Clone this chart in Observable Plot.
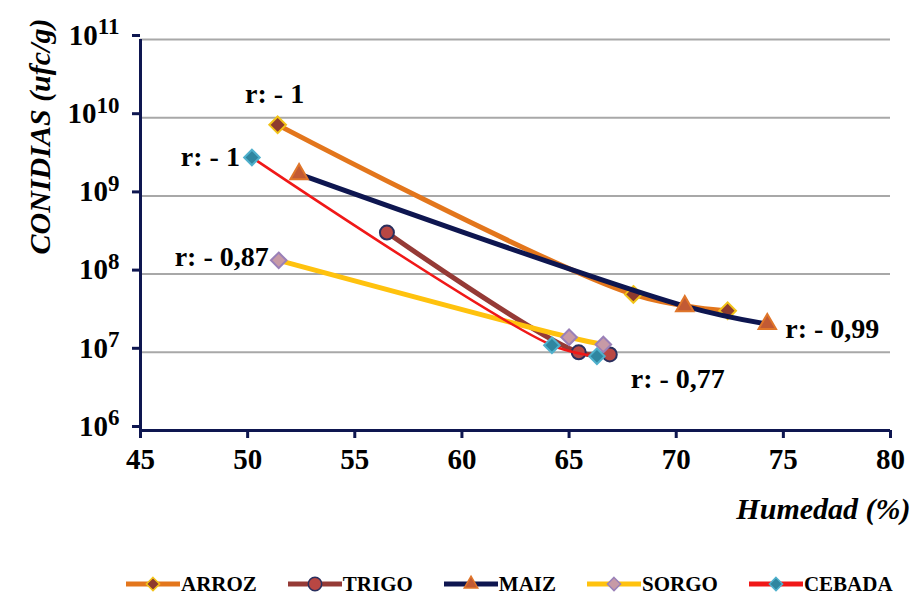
<!DOCTYPE html>
<html><head><meta charset="utf-8">
<script src="https://cdn.jsdelivr.net/npm/d3@7"></script>
<script src="https://cdn.jsdelivr.net/npm/@observablehq/plot@0.6"></script>
<style>
body{margin:0;background:#fff;width:915px;height:600px;overflow:hidden;font-family:"Liberation Serif","Times New Roman",serif}
#legend{display:flex;align-items:center;height:32px;padding-left:125px;font-weight:bold;font-size:21px;color:#000}
.item{display:flex;align-items:center;margin-right:30px}
.item svg{display:block}
</style></head><body><div id="chart"></div><div id="legend"></div>
<script>
// ---- data ----
const series = ["ARROZ", "TRIGO", "MAIZ", "SORGO", "CEBADA"];
const arrozX = [51.4, 68.0, 72.4];
const arrozY = [8.1e9, 5.5e7, 3.4e7];
const trigoX = [56.5, 65.45, 66.9];
const trigoY = [3.4e8, 1.0e7, 9.4e6];
const maizX = [52.4, 70.4, 74.25];
const maizY = [1.9e9, 3.9e7, 2.3e7];
const sorgoX = [51.45, 65.0, 66.6];
const sorgoY = [1.5e8, 1.56e7, 1.26e7];
const cebadaX = [50.2, 64.2, 66.3];
const cebadaY = [3.1e9, 1.23e7, 8.9e6];
const xTicks = [45, 50, 55, 60, 65, 70, 75, 80];
const yTicks = [1e6, 1e7, 1e8, 1e9, 1e10, 1e11];
const rLabels = ["r: - 1", "r: - 0,77", "r: - 0,99", "r: - 0,87", "r: - 1"];
const yLabel = "CONIDIAS (ufc/g)";
const xLabel = "Humedad (%)";

// ---- styles ----
const navy = "#0E1650";
const styles = {
  ARROZ: {line: "#E3761C", w: 5, symbol: "diamond2", fill: "#8E3B2E", stroke: "#F2C318", r: 7.5},
  TRIGO: {line: "#953A36", w: 5, symbol: "circle", fill: "#B94743", stroke: "#2A2F5E", r: 7},
  MAIZ: {line: navy, w: 5, symbol: "triangle", fill: "#C25A34", stroke: "#E0762A", r: 6.5},
  SORGO: {line: "#FFC20E", w: 5, symbol: "diamond2", fill: "#C79AA6", stroke: "#9A80B8", r: 7},
  CEBADA: {line: "#F01818", w: 2.5, symbol: "diamond2", fill: "#2F86A0", stroke: "#4FB0CC", r: 7}
};
const xs = [arrozX, trigoX, maizX, sorgoX, cebadaX];
const ys = [arrozY, trigoY, maizY, sorgoY, cebadaY];
const rows = series.map((s, i) => xs[i].map((x, j) => ({serie: s, x, y: ys[i][j]})));

const seriesMarks = series.flatMap((s, i) => {
  const st = styles[s];
  return [
    Plot.line(rows[i], {x: "x", y: "y", stroke: st.line, strokeWidth: st.w, curve: "catmull-rom"}),
    Plot.dot(rows[i], {x: "x", y: "y", symbol: st.symbol, r: st.r, fill: st.fill, stroke: st.stroke, strokeWidth: 2})
  ];
});

const annFont = {fontSize: 28, fontWeight: "bold", fill: "#000"};
const ann = (row, label, opts) => Plot.text([{...row, t: label}], {x: "x", y: "y", text: "t", ...annFont, ...opts});

const chart = Plot.plot({
  width: 915, height: 568,
  marginLeft: 140, marginRight: 25, marginTop: 39, marginBottom: 138,
  style: {fontFamily: "'Liberation Serif', 'Times New Roman', serif", fontWeight: "bold", fontSize: "29px", color: "#000", background: "#fff"},
  x: {domain: [45, 80]},
  y: {type: "log", domain: [1e6, 1e11]},
  marks: [
    Plot.ruleY(yTicks.slice(1), {stroke: "#A8A8A8", strokeWidth: 2}),
    ...seriesMarks,
    ann(rows[0][0], rLabels[0], {dx: -3, dy: -31}),
    ann(rows[1][2], rLabels[1], {dx: 21, dy: 25, textAnchor: "start"}),
    ann(rows[2][2], rLabels[2], {dx: 18, dy: 5, textAnchor: "start"}),
    ann(rows[3][0], rLabels[3], {dx: -10, dy: -3, textAnchor: "end"}),
    ann(rows[4][0], rLabels[4], {dx: -12, dy: 0, textAnchor: "end"}),
    Plot.ruleY([1e6], {stroke: navy, strokeWidth: 3}),
    Plot.ruleX([45], {stroke: navy, strokeWidth: 3}),
    Plot.axisX({ticks: xTicks, tickSize: 8, tickPadding: 10, stroke: navy, strokeWidth: 3, fill: "#000", fontSize: 29, label: null, tickFormat: d => String(d)}),
    Plot.axisY({ticks: yTicks, tickSize: 8, tickPadding: 13, stroke: navy, strokeWidth: 3, fill: "#000", fontSize: 29, label: null, dy: -4,
      tickFormat: d => "10^" + Math.round(Math.log10(d))}),
    Plot.text([yLabel], {frameAnchor: "top-left", dx: -112, dy: 97, rotate: -90, textAnchor: "middle", text: d => d, fontSize: 30, fontWeight: "bold", fontStyle: "italic", fill: "#000"}),
    Plot.text([xLabel], {frameAnchor: "bottom-right", dx: 20, dy: 88, textAnchor: "end", text: d => d, fontSize: 30, fontWeight: "bold", fontStyle: "italic", fill: "#000"})
  ]
});
document.getElementById("chart").appendChild(chart);

// tick label size
d3.select(chart).selectAll('g[aria-label$="tick label"]').attr("font-size", 29)
  .selectAll("text").attr("font-size", 29);

// superscript exponents on y tick labels
d3.select(chart).selectAll("text").each(function () {
  const m = /^10\^(\d+)$/.exec(this.textContent);
  if (m) {
    const s = d3.select(this);
    s.text(null);
    s.append("tspan").text("10");
    s.append("tspan").attr("dy", "-0.45em").attr("font-size", "23px").text(m[1]);
  }
});

// legend
const legend = d3.select("#legend");
series.forEach(s => {
  const st = styles[s];
  const item = legend.append("div").attr("class", "item");
  const sv = item.append("svg").attr("width", 56).attr("height", 24);
  sv.append("line").attr("x1", 1).attr("x2", 55).attr("y1", 12).attr("y2", 12).attr("stroke", st.line).attr("stroke-width", 5);
  const sym = {diamond2: d3.symbolDiamond2, circle: d3.symbolCircle, triangle: d3.symbolTriangle2}[st.symbol];
  const size = st.symbol === "circle" ? 140 : st.symbol === "triangle" ? 130 : 110;
  sv.append("path").attr("d", d3.symbol(sym, size)()).attr("transform", "translate(28,12)")
    .attr("fill", st.fill).attr("stroke", st.stroke).attr("stroke-width", 1.5);
  item.append("span").text(s);
});
</script></body></html>
